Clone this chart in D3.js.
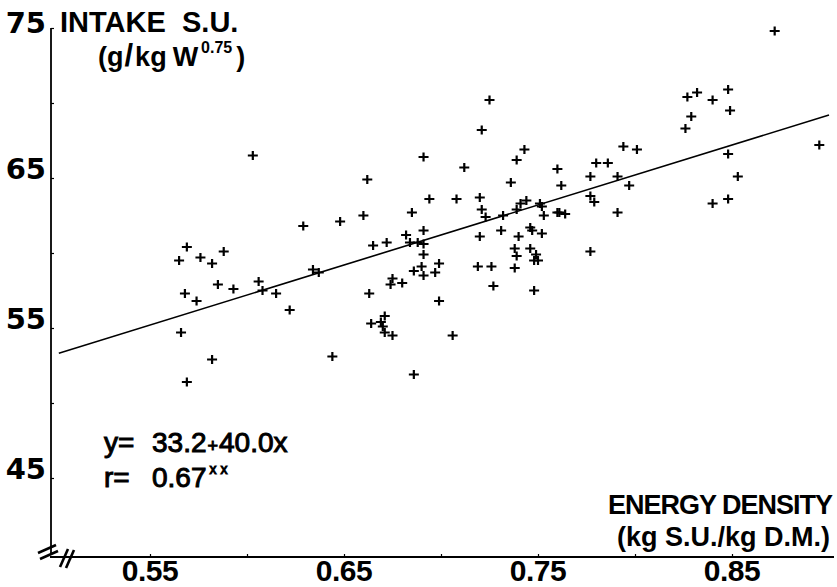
<!DOCTYPE html>
<html>
<head>
<meta charset="utf-8">
<script src="https://cdn.jsdelivr.net/npm/d3@7"></script>
<style>
  body { margin: 0; background: #fff; }
  svg { display: block; }
  text { fill: #000; }
</style>
</head>
<body>
<svg class="chart" width="837" height="587"></svg>
<script>
// energy density (kg S.U./kg D.M.) of each observation
const energyDensity = [
  0.565, 0.569, 0.576, 0.582, 0.588, 0.585, 0.593, 0.568, 0.574, 0.566, 0.582, 0.569,
  0.603, 0.606, 0.608, 0.615, 0.622, 0.629, 0.634, 0.637, 0.644, 0.648, 0.660, 0.662,
  0.663, 0.664, 0.669, 0.670, 0.671, 0.675, 0.671, 0.665, 0.672, 0.675, 0.674, 0.680,
  0.686, 0.691, 0.694, 0.685, 0.691, 0.682, 0.684, 0.688, 0.691, 0.691, 0.699, 0.690,
  0.686, 0.697, 0.691, 0.699, 0.706, 0.725, 0.721, 0.743, 0.739, 0.712, 0.736, 0.760,
  0.762, 0.777, 0.780, 0.786, 0.794, 0.801, 0.791, 0.797, 0.777, 0.779, 0.791, 0.777,
  0.708, 0.720, 0.721, 0.723, 0.732, 0.739, 0.741, 0.744, 0.751, 0.752, 0.753, 0.760,
  0.761, 0.764, 0.720, 0.731, 0.740, 0.746, 0.747, 0.752, 0.738, 0.739, 0.746, 0.749,
  0.748, 0.750, 0.738, 0.719, 0.726, 0.727, 0.748, 0.872, 0.827, 0.832, 0.840, 0.848,
  0.829, 0.826, 0.849, 0.848, 0.853, 0.840, 0.848, 0.895
];

// intake S.U. (g/kg W^0.75), same order
const intakeSU = [
  59.5, 60.4, 59.7, 59.3, 60.1, 57.9, 57.6, 57.3, 56.8, 54.7, 52.9, 51.4,
  66.5, 58.1, 57.5, 57.3, 56.2, 61.8, 58.9, 58.7, 53.1, 62.1, 62.5, 64.9,
  57.3, 55.3, 55.4, 55.1, 54.7, 54.5, 55.8, 60.5, 60.7, 58.3, 57.9, 58.0,
  51.9, 66.4, 63.6, 62.7, 61.5, 61.2, 60.7, 60.7, 60.6, 59.9, 59.3, 59.1,
  58.8, 58.7, 58.5, 56.8, 54.5, 70.2, 68.2, 66.9, 66.2, 65.7, 64.7, 65.6,
  64.5, 65.1, 66.0, 66.0, 67.1, 66.9, 65.1, 64.5, 63.8, 63.4, 62.7, 60.1,
  63.6, 63.7, 62.9, 62.4, 62.5, 62.9, 63.3, 63.5, 63.3, 63.1, 62.5, 62.7,
  62.7, 62.6, 61.1, 61.5, 61.1, 61.7, 61.5, 61.3, 60.3, 59.8, 60.3, 59.9,
  59.5, 59.5, 59.0, 59.1, 59.1, 57.8, 57.5, 74.8, 70.4, 70.7, 70.2, 70.9,
  69.1, 68.3, 69.5, 66.6, 65.1, 63.3, 63.6, 67.2
];

const xTickLabels = [0.55, 0.65, 0.75, 0.85];
const xMinorTicks = [0.55, 0.60, 0.65, 0.70, 0.75, 0.80, 0.85];
const yTickLabels = [45, 55, 65, 75];
const yMinorTicks = [45, 50, 55, 60, 65, 70, 75];

// regression y = a + b x
const intercept = 33.2;
const slope = 40.0;
const corr = "0.67";
const lineRange = [0.503, 0.9];

const svg = d3.select(".chart");

const x = d3.scaleLinear().domain([0.5, 0.9]).range([53, 829]);
const y = d3.scaleLinear().domain([45, 75]).range([478, 28]);

const axisLeftX = 51;
const axisBottomY = 557;

// axis lines
svg.append("line")
  .attr("x1", axisLeftX).attr("x2", axisLeftX)
  .attr("y1", y(75)).attr("y2", 553)
  .attr("stroke", "#000").attr("stroke-width", 1.8);

svg.append("line")
  .attr("x1", 50).attr("x2", 834)
  .attr("y1", axisBottomY).attr("y2", axisBottomY)
  .attr("stroke", "#000").attr("stroke-width", 1.8);

// small inside ticks
svg.append("g")
  .attr("transform", `translate(${axisLeftX},0)`)
  .call(d3.axisRight(y).tickValues(yMinorTicks).tickSize(3).tickFormat(""))
  .call(g => g.select(".domain").remove())
  .call(g => g.selectAll("line").attr("stroke-width", 1.2));

svg.append("g")
  .attr("transform", `translate(0,${axisBottomY})`)
  .call(d3.axisTop(x).tickValues(xMinorTicks).tickSize(3).tickFormat(""))
  .call(g => g.select(".domain").remove())
  .call(g => g.selectAll("line").attr("stroke-width", 1.2));

// axis break marks
const breaks = [
  [[38, 553], [56, 545]],
  [[40, 559], [58, 551]],
  [[60, 567], [68, 549]],
  [[66, 568], [74, 550]]
];
svg.selectAll(".brk")
  .data(breaks)
  .enter()
  .append("path")
  .attr("d", d => d3.line()(d))
  .attr("stroke", "#000")
  .attr("stroke-width", 2.6);

// tick labels
svg.selectAll(".ylab")
  .data(yTickLabels)
  .enter()
  .append("text")
  .attr("x", 46)
  .attr("y", d => d === 75 ? y(d) + 5 : y(d) + 1)
  .attr("text-anchor", "end")
  .style("font", "bold 29px 'DejaVu Sans'")
  .text(d => d);

svg.selectAll(".xlab")
  .data(xTickLabels)
  .enter()
  .append("text")
  .attr("x", d => x(d))
  .attr("y", 581)
  .attr("text-anchor", "middle")
  .style("font", "bold 30px 'Liberation Sans'")
  .style("letter-spacing", "-0.5px")
  .text(d => d.toFixed(2));

// y axis title
const yTitle = svg.append("g").style("font-family", "'Liberation Sans'").style("font-weight", "bold");
yTitle.append("text")
  .attr("x", 60).attr("y", 32)
  .style("font-size", "29px")
  .text("INTAKE")
  .append("tspan").attr("x", 182).text("S.U.");

const t2 = yTitle.append("text").attr("x", 98).attr("y", 66).style("font-size", "27px");
t2.append("tspan").text("(g");
t2.append("tspan").attr("dx", 1).style("font-size", "31px").text("/");
t2.append("tspan").attr("dx", 2).text("kg");
t2.append("tspan").attr("dx", 6).text("W");
t2.append("tspan").attr("dy", -13).attr("dx", 3).style("font-size", "16px").text("0.75");
t2.append("tspan").attr("dy", 13).attr("dx", 4).text(")");

// x axis title
const xTitle = svg.append("g")
  .style("font-family", "'Liberation Sans'")
  .style("font-weight", "bold")
  .style("font-size", "27px")
  .attr("text-anchor", "end");
xTitle.append("text").attr("x", 832).attr("y", 514)
  .style("letter-spacing", "-1px")
  .text("ENERGY DENSITY");
xTitle.append("text").attr("x", 830).attr("y", 546)
  .text("(kg S.U./kg D.M.)");

// regression line
svg.append("path")
  .datum(lineRange)
  .attr("d", d3.line().x(d => x(d)).y(d => y(intercept + slope * d)))
  .attr("stroke", "#000")
  .attr("stroke-width", 1.6)
  .attr("fill", "none");

// points as small crosses
svg.append("g")
  .selectAll("path")
  .data(energyDensity.map((e, i) => [e, intakeSU[i]]))
  .enter()
  .append("path")
  .attr("transform", d => `translate(${x(d[0])},${y(d[1])})`)
  .attr("d", "M-5,0H5M0,-4.5V4.5")
  .attr("stroke", "#000")
  .attr("stroke-width", 2.2);

// equation
const eq = svg.append("g").style("font-family", "'Liberation Sans'").style("font-size", "28px");
const l1 = eq.append("text").attr("x", 104).attr("y", 452).attr("stroke", "#000").attr("stroke-width", 1);
l1.append("tspan").text("y=");
l1.append("tspan").attr("x", 152).text("33.2");
l1.append("tspan").attr("dx", 1).style("font-size", "18px").text("+");
l1.append("tspan").attr("dx", 1).text(`${slope.toFixed(1)}x`);

const l2 = eq.append("text").attr("x", 104).attr("y", 487).attr("stroke", "#000").attr("stroke-width", 1);
l2.append("tspan").text("r=");
l2.append("tspan").attr("x", 152).text(corr);
l2.append("tspan").attr("dy", -13).attr("dx", 3).style("font-size", "14px").text("x x");
</script>
</body>
</html>
